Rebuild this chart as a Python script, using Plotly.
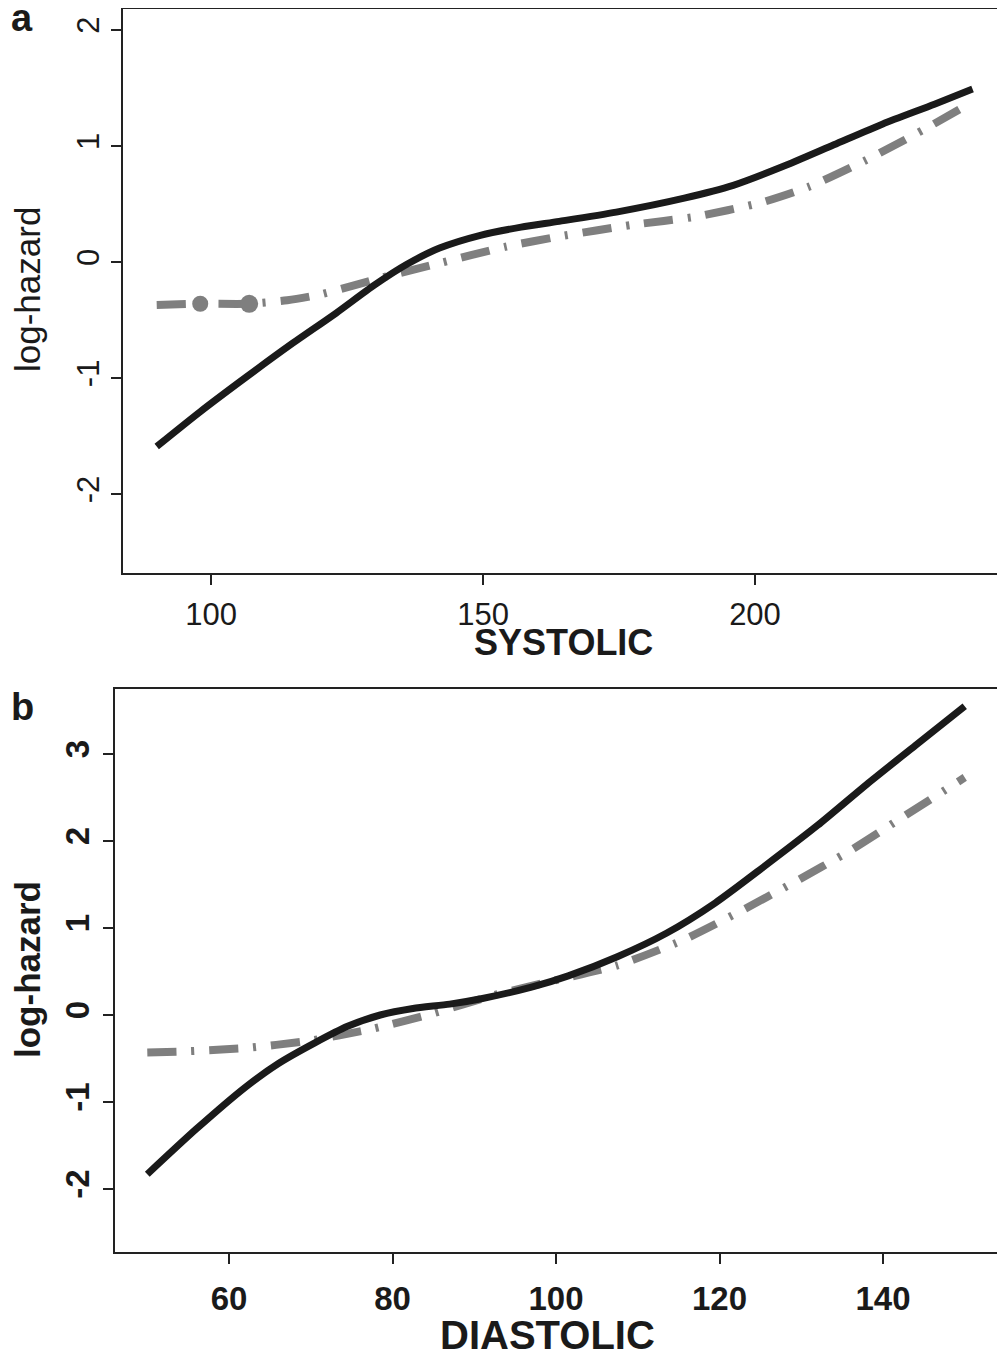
import plotly.graph_objects as go

# page is 1005x1359; the html body adds an 8px margin, so the figure is drawn 8px in
PAGE_W, PAGE_H = 1005, 1359
OFF = 8
W, H = PAGE_W - OFF, PAGE_H - 2 * OFF

# ---- Panel a: SYSTOLIC ----
sys_solid_x = [90, 98, 106.5, 115, 123, 130, 136, 142, 149.5, 157, 164, 174.5, 187, 196, 205, 214.5, 223.5, 233, 240]
sys_solid_y = [-1.59, -1.29, -0.99, -0.70, -0.44, -0.20, -0.02, 0.12, 0.23, 0.30, 0.35, 0.43, 0.55, 0.66, 0.82, 1.01, 1.19, 1.36, 1.49]
sys_dash_x = [90, 98, 107, 114, 120, 131, 142, 154, 164, 177.5, 189, 201, 210, 220.5, 231, 240]
sys_dash_y = [-0.37, -0.36, -0.36, -0.33, -0.28, -0.14, -0.01, 0.13, 0.22, 0.32, 0.39, 0.51, 0.65, 0.88, 1.14, 1.38]
sys_blob_x = [98, 107]
sys_blob_y = [-0.36, -0.36]
sys_xticks = [100, 150, 200]
sys_yticks = [-2, -1, 0, 1, 2]

# ---- Panel b: DIASTOLIC ----
dia_solid_x = [50, 56, 62, 66, 70.5, 74.5, 78.5, 82.5, 87, 91, 97, 101.5, 107.5, 113.5, 119.5, 125.5, 132, 138, 144, 150]
dia_solid_y = [-1.83, -1.31, -0.83, -0.56, -0.32, -0.13, 0.0, 0.075, 0.125, 0.19, 0.32, 0.45, 0.67, 0.94, 1.29, 1.71, 2.18, 2.65, 3.10, 3.55]
dia_dash_x = [50, 54, 62, 69.5, 77.5, 85, 92.5, 99.5, 107.5, 115.5, 122.5, 129, 136, 142.5, 150]
dia_dash_y = [-0.43, -0.42, -0.38, -0.30, -0.16, 0.02, 0.23, 0.39, 0.57, 0.86, 1.19, 1.52, 1.89, 2.28, 2.73]
dia_xticks = [60, 80, 100, 120, 140]
dia_yticks = [-2, -1, 0, 1, 2, 3]

BLACK = "#1a1a1a"
GRAY = "#7f7f7f"
FONT = "Liberation Sans, Arial, sans-serif"
DASH = "29px,15px,3px,15px"


def px_x(p):
    return min(1.0, max(0.0, (p - OFF) / W))


def px_y(p):
    return min(1.0, max(0.0, 1 - (p - OFF) / H))


fig = go.Figure()

fig.add_trace(go.Scatter(x=sys_dash_x, y=sys_dash_y, mode="lines",
                         line=dict(color=GRAY, width=8, dash=DASH, shape="spline", smoothing=0.6),
                         xaxis="x", yaxis="y", showlegend=False))
fig.add_trace(go.Scatter(x=sys_blob_x, y=sys_blob_y, mode="markers",
                         marker=dict(color=GRAY, size=[16, 18], opacity=1, line=dict(width=0)),
                         xaxis="x", yaxis="y", showlegend=False))
fig.add_trace(go.Scatter(x=sys_solid_x, y=sys_solid_y, mode="lines",
                         line=dict(color=BLACK, width=7, shape="spline", smoothing=0.7),
                         xaxis="x", yaxis="y", showlegend=False))

fig.add_trace(go.Scatter(x=dia_dash_x, y=dia_dash_y, mode="lines",
                         line=dict(color=GRAY, width=8, dash=DASH, shape="spline", smoothing=0.6),
                         xaxis="x2", yaxis="y2", showlegend=False))
fig.add_trace(go.Scatter(x=dia_solid_x, y=dia_solid_y, mode="lines",
                         line=dict(color=BLACK, width=7, shape="spline", smoothing=0.7),
                         xaxis="x2", yaxis="y2", showlegend=False))

axis_common = dict(showline=True, mirror=True, linecolor="#222", linewidth=2,
                   ticks="outside", ticklen=10, tickwidth=2, tickcolor="#222",
                   showgrid=False, zeroline=False, automargin=False)

fig.update_layout(
    width=W, height=H,
    margin=dict(l=0, r=0, t=0, b=0, autoexpand=False),
    paper_bgcolor="white", plot_bgcolor="white",
    font=dict(family=FONT, color="#1a1a1a"),
    xaxis=dict(domain=[px_x(123), px_x(1003)], range=[83.8, 245.6], anchor="y",
               tickvals=sys_xticks, ticktext=[str(v) for v in sys_xticks],
               tickfont=dict(size=31, family=FONT), ticklabelstandoff=3, **axis_common),
    yaxis=dict(domain=[px_y(573), px_y(9)], range=[-2.68, 2.18], anchor="x",
               tickvals=sys_yticks, ticktext=[str(v) for v in sys_yticks],
               tickangle=-90, tickfont=dict(size=31, family=FONT), ticklabelstandoff=0, **axis_common),
    xaxis2=dict(domain=[px_x(115), px_x(998)], range=[46.05, 154.07], anchor="y2",
                tickvals=dia_xticks, ticktext=[str(v) for v in dia_xticks],
                tickfont=dict(size=33, family=FONT, weight="bold"), ticklabelstandoff=6, **axis_common),
    yaxis2=dict(domain=[px_y(1252), px_y(689)], range=[-2.724, 3.747], anchor="x2",
                tickvals=dia_yticks, ticktext=[str(v) for v in dia_yticks],
                tickangle=-90, tickfont=dict(size=33, family=FONT, weight="bold"), ticklabelstandoff=1,
                **axis_common),
)

annos = [
    dict(text="a", x=px_x(22), y=px_y(18), size=38, bold=True, angle=0),
    dict(text="b", x=px_x(22), y=px_y(707), size=38, bold=True, angle=0),
    dict(text="log-hazard", x=px_x(27), y=px_y(290), size=35, bold=False, angle=-90),
    dict(text="SYSTOLIC", x=px_x(563), y=px_y(643), size=36, bold=True, angle=0),
    dict(text="log-hazard", x=px_x(28), y=px_y(970), size=35, bold=True, angle=-90),
    dict(text="DIASTOLIC", x=px_x(547), y=px_y(1335), size=40, bold=True, angle=0),
]
for a in annos:
    fig.add_annotation(text=a["text"], x=a["x"], y=a["y"], xref="paper", yref="paper",
                       xanchor="center", yanchor="middle", showarrow=False, textangle=a["angle"],
                       font=dict(size=a["size"], family=FONT, color="#1a1a1a",
                                 weight="bold" if a["bold"] else "normal"))

fig.write_html("out.html")
